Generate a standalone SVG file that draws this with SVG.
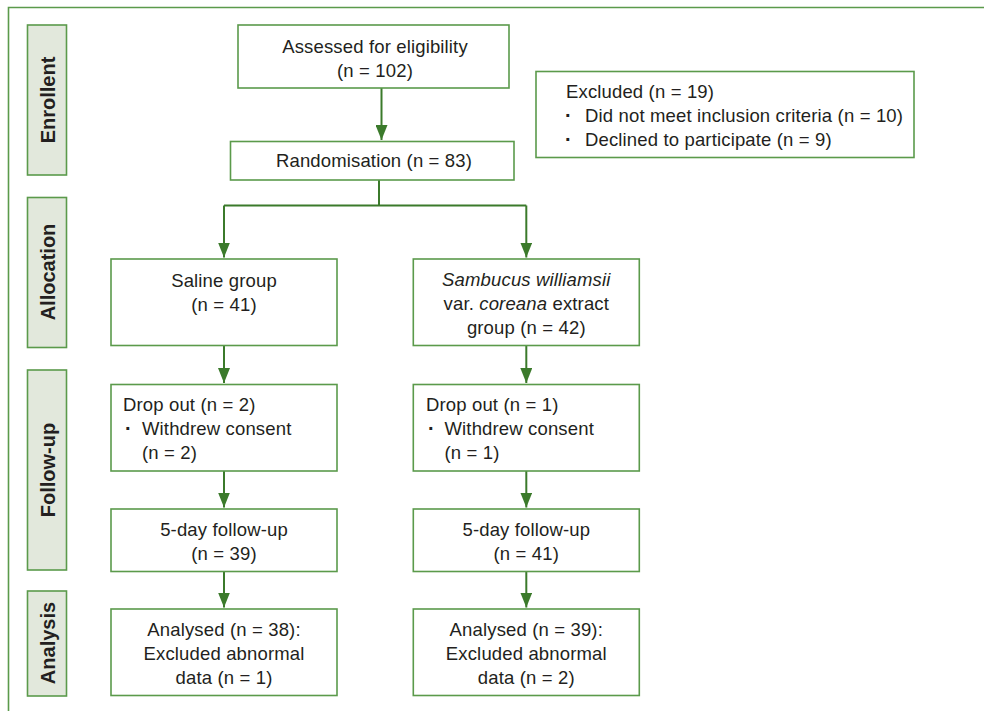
<svg xmlns="http://www.w3.org/2000/svg" width="984" height="711" viewBox="0 0 984 711">
<defs>
<style>
.box{fill:#ffffff;stroke:#5b9a4b;stroke-width:1.6}
.lab{fill:#e2e8dc;stroke:#5b9a4b;stroke-width:1.6}
.t{font-family:"Liberation Sans",Arial,sans-serif;font-size:18.5px;fill:#231f20;letter-spacing:0.15px}
.c{text-anchor:middle}
.d{font-size:20px;font-weight:bold}
.lt{font-family:"Liberation Sans",Arial,sans-serif;font-size:20px;font-weight:bold;fill:#231f20;text-anchor:middle}
.con{fill:none;stroke:#3b7a2b;stroke-width:2}
</style>
<marker id="arr" markerUnits="userSpaceOnUse" markerWidth="16" markerHeight="12" refX="15" refY="6" orient="auto" viewBox="0 0 16 12">
<path d="M0,0 L15,6 L0,12 Z" fill="#3b7a2b"/>
</marker>
</defs>
<rect width="984" height="711" fill="#ffffff"/>
<path d="M8.5,711 V7.5 H984" fill="none" stroke="#5b9a4b" stroke-width="1.6"/>

<g id="label-enrollent">
<rect class="lab" x="27.5" y="25" width="39" height="150"/>
<text class="lt" transform="translate(54.5,100) rotate(-90)">Enrollent</text>
</g>
<g id="label-allocation">
<rect class="lab" x="27.5" y="197.5" width="39" height="150"/>
<text class="lt" transform="translate(54.5,272) rotate(-90)">Allocation</text>
</g>
<g id="label-followup">
<rect class="lab" x="27.5" y="370" width="39" height="200"/>
<text class="lt" transform="translate(54.5,470) rotate(-90)">Follow-up</text>
</g>
<g id="label-analysis">
<rect class="lab" x="27.5" y="591" width="39" height="105"/>
<text class="lt" transform="translate(54.5,643) rotate(-90)">Analysis</text>
</g>

<g id="connectors">
<path class="con" d="M381.5,88 V140" marker-end="url(#arr)"/>
<path class="con" d="M379,180 V205.5"/>
<path class="con" d="M224,205.5 H526.3"/>
<path class="con" d="M224,205.5 V257.5" marker-end="url(#arr)"/>
<path class="con" d="M526.3,205.5 V257.5" marker-end="url(#arr)"/>
<path class="con" d="M224,345.5 V383" marker-end="url(#arr)"/>
<path class="con" d="M526.3,345.5 V383" marker-end="url(#arr)"/>
<path class="con" d="M224,471 V507.5" marker-end="url(#arr)"/>
<path class="con" d="M526.3,471 V507.5" marker-end="url(#arr)"/>
<path class="con" d="M224,571.5 V607.5" marker-end="url(#arr)"/>
<path class="con" d="M526.3,571.5 V607.5" marker-end="url(#arr)"/>
</g>

<g id="assessed">
<rect class="box" x="238" y="25" width="271" height="63"/>
<text class="t c" x="375" y="53">Assessed for eligibility</text>
<text class="t c" x="375" y="77">(n = 102)</text>
</g>
<g id="excluded">
<rect class="box" x="536" y="71.5" width="378" height="86"/>
<text class="t" x="566" y="98">Excluded (n = 19)</text>
<text class="t" y="122"><tspan class="d" x="565">·</tspan><tspan x="585">Did not meet inclusion criteria (n = 10)</tspan></text>
<text class="t" y="146"><tspan class="d" x="565">·</tspan><tspan x="585">Declined to participate (n = 9)</tspan></text>
</g>
<g id="randomisation">
<rect class="box" x="230.5" y="141.5" width="283.5" height="38.5"/>
<text class="t c" x="374" y="167">Randomisation (n = 83)</text>
</g>
<g id="saline">
<rect class="box" x="111" y="259" width="226" height="86.5"/>
<text class="t c" x="224" y="287">Saline group</text>
<text class="t c" x="224" y="311">(n = 41)</text>
</g>
<g id="extract">
<rect class="box" x="413.3" y="259" width="226" height="86.5"/>
<text class="t c" x="526.3" y="286"><tspan font-style="italic">Sambucus williamsii</tspan></text>
<text class="t c" x="526.3" y="310">var. <tspan font-style="italic">coreana</tspan> extract</text>
<text class="t c" x="526.3" y="334">group (n = 42)</text>
</g>
<g id="dropout-saline">
<rect class="box" x="111" y="384.5" width="226" height="86.5"/>
<text class="t" x="123" y="411">Drop out (n = 2)</text>
<text class="t" y="434.5"><tspan class="d" x="125">·</tspan><tspan x="142">Withdrew consent</tspan></text>
<text class="t" x="142" y="458.5">(n = 2)</text>
</g>
<g id="dropout-extract">
<rect class="box" x="413.3" y="384.5" width="226" height="86.5"/>
<text class="t" x="426" y="411">Drop out (n = 1)</text>
<text class="t" y="434.5"><tspan class="d" x="428">·</tspan><tspan x="444.5">Withdrew consent</tspan></text>
<text class="t" x="444.5" y="458.5">(n = 1)</text>
</g>
<g id="followup-saline">
<rect class="box" x="111" y="509" width="226" height="62.5"/>
<text class="t c" x="224" y="536">5-day follow-up</text>
<text class="t c" x="224" y="560">(n = 39)</text>
</g>
<g id="followup-extract">
<rect class="box" x="413.3" y="509" width="226" height="62.5"/>
<text class="t c" x="526.3" y="536">5-day follow-up</text>
<text class="t c" x="526.3" y="560">(n = 41)</text>
</g>
<g id="analysed-saline">
<rect class="box" x="111" y="609" width="226" height="86.5"/>
<text class="t c" x="224" y="636">Analysed (n = 38):</text>
<text class="t c" x="224" y="659.5">Excluded abnormal</text>
<text class="t c" x="224" y="683.5">data (n = 1)</text>
</g>
<g id="analysed-extract">
<rect class="box" x="413.3" y="609" width="226" height="86.5"/>
<text class="t c" x="526.3" y="636">Analysed (n = 39):</text>
<text class="t c" x="526.3" y="659.5">Excluded abnormal</text>
<text class="t c" x="526.3" y="683.5">data (n = 2)</text>
</g>
</svg>
